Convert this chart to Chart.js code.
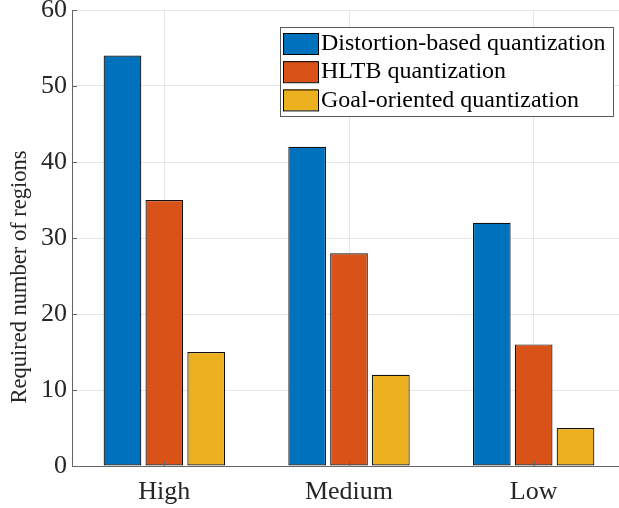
<!DOCTYPE html>
<html>
<head>
<meta charset="utf-8">
<script src="https://cdn.jsdelivr.net/npm/chart.js@4/dist/chart.umd.min.js"></script>
<style>
  html, body { margin: 0; padding: 0; background: #fff; overflow: hidden; }
  #wrap { width: 626px; height: 508px; position: relative; }
</style>
</head>
<body>
<div id="wrap"><canvas id="chart"></canvas></div>
<script>
// ── Data ──
const categories = ['High', 'Medium', 'Low'];
const seriesNames = ['Distortion-based quantization', 'HLTB quantization', 'Goal-oriented quantization'];
const distortionValues = [54, 42, 32];
const hltbValues = [35, 28, 16];
const goalValues = [15, 12, 5];
const yTicks = [0, 10, 20, 30, 40, 50, 60];
const yTitle = 'Required number of regions';

const colors = ['#0072BD', '#D95319', '#EDB120'];
const serif = '"Liberation Serif", "DejaVu Serif", serif';

// Legend drawn inside the axes, MATLAB style (top right box)
const boxLegend = {
    id: 'boxLegend',
    afterDraw(chart) {
        const ctx = chart.ctx;
        const { x, y } = chart.scales;
        const area = chart.chartArea;

        // inward tick marks
        ctx.save();
        ctx.strokeStyle = '#666';
        ctx.lineWidth = 1;
        ctx.beginPath();
        yTicks.forEach(v => {
            const py = Math.round(y.getPixelForValue(v)) + 0.5;
            ctx.moveTo(area.left, py);
            ctx.lineTo(area.left + 5, py);
        });
        categories.forEach((c, i) => {
            const px = Math.round(x.getPixelForValue(i)) + 0.5;
            ctx.moveTo(px, area.bottom);
            ctx.lineTo(px, area.bottom - 5);
        });
        ctx.stroke();

        const x0 = 280, y0 = 27, w = 333, h = 89;
        ctx.fillStyle = '#fff';
        ctx.fillRect(x0, y0, w, h);
        ctx.strokeStyle = '#5a5a5a';
        ctx.strokeRect(x0 + 0.5, y0 + 0.5, w, h);
        ctx.font = '24px ' + serif;
        ctx.textBaseline = 'middle';
        chart.data.datasets.forEach((ds, i) => {
            const cy = y0 + 16 + i * 28.2;
            ctx.fillStyle = ds.backgroundColor;
            ctx.fillRect(x0 + 3, cy - 10, 35, 21);
            ctx.strokeStyle = '#000';
            ctx.strokeRect(x0 + 3.5, cy - 9.5, 35, 21);
            ctx.fillStyle = '#000';
            ctx.fillText(ds.label, x0 + 41, cy + 1);
        });

        // y label, placed a bit below the axis middle like the original
        ctx.translate(20, 277);
        ctx.rotate(-Math.PI / 2);
        ctx.font = '22.5px ' + serif;
        ctx.fillStyle = '#262626';
        ctx.textAlign = 'center';
        ctx.fillText(yTitle, 0, 0);
        ctx.restore();
    }
};

const makeSet = (label, data, color) => ({
    label, data,
    backgroundColor: color,
    borderColor: '#111',
    borderWidth: 1.2,
    borderSkipped: false,
    categoryPercentage: 0.68,
    barPercentage: 0.9
});

new Chart(document.getElementById('chart'), {
    type: 'bar',
    data: {
        labels: categories,
        datasets: [
            makeSet(seriesNames[0], distortionValues, colors[0]),
            makeSet(seriesNames[1], hltbValues, colors[1]),
            makeSet(seriesNames[2], goalValues, colors[2])
        ]
    },
    options: {
        responsive: true,
        maintainAspectRatio: false,
        animation: false,
        layout: { padding: { top: 10, right: 0, left: 0, bottom: 0 } },
        plugins: { legend: { display: false }, tooltip: { enabled: false } },
        scales: {
            x: {
                grid: { color: '#e6e6e6', drawTicks: false, offset: false },
                border: { color: '#666', width: 1 },
                ticks: { color: '#262626', font: { family: serif, size: 26 }, padding: 11 },
                afterFit: s => { s.height = 42; }
            },
            y: {
                min: 0, max: 60,
                afterBuildTicks: s => { s.ticks = yTicks.map(v => ({ value: v })); },
                grid: { color: '#e6e6e6', drawTicks: false },
                border: { color: '#666', width: 1 },
                ticks: { color: '#262626', font: { family: serif, size: 26 }, padding: 5 },
                afterFit: s => { s.width = 72; s.paddingTop = 0; s.paddingBottom = 0; }
            }
        }
    },
    plugins: [boxLegend]
});
</script>
</body>
</html>
